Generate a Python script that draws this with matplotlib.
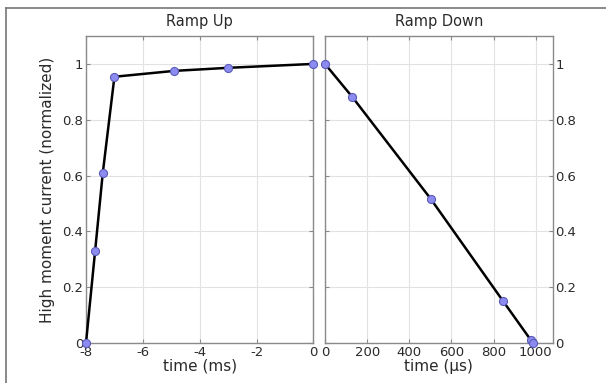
import matplotlib
matplotlib.use("Agg")
import matplotlib.pyplot as plt
from matplotlib.ticker import FuncFormatter
from matplotlib.lines import Line2D

plt.rcParams['font.family'] = ['DejaVu Sans']

# Data
up_time_ms = [-8.0, -7.68, -7.41, -7.0, -4.9, -3.0, 0.0]
up_current = [0.0, 0.329, 0.609, 0.954, 0.975, 0.986, 1.0]

down_time_us = [0, 129, 501, 843, 975, 985]
down_current = [1.0, 0.882, 0.517, 0.152, 0.012, 0.0]

up_xticks = [-8, -6, -4, -2, 0]
down_xticks = [0, 200, 400, 600, 800, 1000]
yticks = [0, 0.2, 0.4, 0.6, 0.8, 1.0]

title_up = "Ramp Up"
title_down = "Ramp Down"
xlabel_up = "time (ms)"
xlabel_down = "time (\u00b5s)"
ylabel = "High moment current (normalized)"

fig = plt.figure(figsize=(6.06, 3.83), dpi=100)
ax1 = fig.add_axes([0.1419, 0.1044, 0.3754, 0.8016])
ax2 = fig.add_axes([0.5363, 0.1044, 0.3757, 0.8016])

fmt = FuncFormatter(lambda v, p: "%g" % v)
spine_c = "#8a8a8a"
text_c = "#2a2a2a"
mfc = "#8c8cf0"
mec = "#5a5ab8"

for ax in (ax1, ax2):
    ax.set_ylim(0, 1.1)
    ax.set_yticks(yticks)
    ax.yaxis.set_major_formatter(fmt)
    ax.xaxis.set_major_formatter(fmt)
    ax.grid(True, color="#e2e2e2", linewidth=0.8)
    ax.set_axisbelow(True)
    for s in ax.spines.values():
        s.set_color(spine_c)
        s.set_linewidth(1.0)
    ax.tick_params(direction="in", length=3, color=spine_c, labelcolor=text_c,
                   labelsize=9.5, top=True, right=True, left=True, bottom=True, pad=2)

ax1.plot(up_time_ms, up_current, color="black", lw=1.8, marker="o", ms=5.8,
         mfc=mfc, mec=mec, mew=0.8, clip_on=False, zorder=5)
ax1.set_xlim(-8, 0)
ax1.set_xticks(up_xticks)
ax1.set_title(title_up, fontsize=10.5, color=text_c, pad=7)
ax1.set_xlabel(xlabel_up, fontsize=11, color=text_c, labelpad=0)
ax1.set_ylabel(ylabel, fontsize=11, color=text_c, labelpad=5)

ax2.plot(down_time_us, down_current, color="black", lw=1.8, marker="o", ms=5.8,
         mfc=mfc, mec=mec, mew=0.8, clip_on=False, zorder=5)
ax2.set_xlim(0, 1080)
ax2.set_xticks(down_xticks)
ax2.yaxis.tick_right()
ax2.tick_params(left=True, right=True, labelleft=False, labelright=True)
ax2.set_title(title_down, fontsize=10.5, color=text_c, pad=7)
ax2.set_xlabel(xlabel_down, fontsize=11, color=text_c, labelpad=0)

# outer frame lines (top and left)
fig.add_artist(Line2D([6/606, 1.0], [1 - 8/383, 1 - 8/383], transform=fig.transFigure,
                      color="#777777", lw=1.2))
fig.add_artist(Line2D([6/606, 6/606], [0.0, 1 - 8/383], transform=fig.transFigure,
                      color="#777777", lw=1.2))

fig.savefig("out.png", dpi=100)
